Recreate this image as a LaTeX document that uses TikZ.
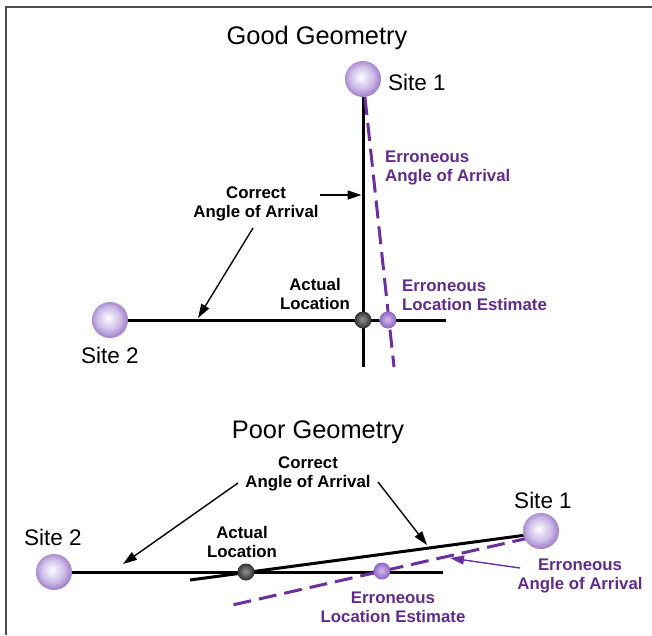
\documentclass[tikz,border=0pt]{standalone}
\usepackage{fontspec}
\setmainfont{Liberation Sans}
\usetikzlibrary{arrows.meta,calc}
\definecolor{purp}{RGB}{96,44,140}
\definecolor{purpline}{RGB}{108,48,158}
\definecolor{lav}{RGB}{205,188,232}
\definecolor{lavd}{RGB}{165,132,205}
\definecolor{estc}{RGB}{180,145,220}
\definecolor{estd}{RGB}{140,100,195}
\definecolor{actc}{RGB}{100,100,100}
\definecolor{actd}{RGB}{45,45,45}
\pgfdeclareradialshading{siteball}{\pgfpoint{-3bp}{3bp}}{color(0bp)=(white); color(6bp)=(lav!40!white); color(16bp)=(lav); color(25bp)=(lavd); color(50bp)=(lavd)}
\pgfdeclareradialshading{estball}{\pgfpoint{-2bp}{2bp}}{color(0bp)=(estc!60!white); color(12bp)=(estc); color(25bp)=(estd); color(50bp)=(estd)}
\pgfdeclareradialshading{actball}{\pgfpoint{-2bp}{2bp}}{color(0bp)=(actc!70!white); color(12bp)=(actc); color(25bp)=(actd); color(50bp)=(actd)}
\pgfdeclarelayer{bg}
\pgfsetlayers{bg,main}
\tikzset{
  site/.style={circle,minimum size=36pt,inner sep=0pt,shading=siteball},
  actdot/.style={circle,minimum size=17pt,inner sep=0pt,shading=actball},
  estdot/.style={circle,minimum size=17pt,inner sep=0pt,shading=estball},
  titletxt/.style={font=\fontsize{25.4}{30}\selectfont,inner sep=0pt,anchor=base},
  sitelbl/.style={font=\fontsize{22.5}{26}\selectfont,inner sep=0pt},
  lbl/.style={font=\fontsize{16.8}{19}\selectfont\bfseries,align=center,inner sep=0pt},
  elbl/.style={lbl,text=purp},
  ray/.style={line width=3pt},
  eray/.style={line width=3pt,purpline,dash pattern=on 18pt off 8pt},
  ptr/.style={line width=1.4pt,-{Triangle[length=14pt,width=9pt]}},
  eptr/.style={ptr,purpline}
}
\begin{document}
\begin{tikzpicture}[x=1pt,y=-1pt]
\useasboundingbox (0,0) rectangle (652,635);
\draw[line width=2pt,black!70] (6,635) -- (6,7) -- (652,7);

% ---------- Good geometry ----------
\node[titletxt] (t1) at (317,44) {Good Geometry};
\node[site] (s1) at (363,79) {};
\node[sitelbl,anchor=west] (l1) at (388,82) {Site 1};
\node[site] (s2) at (110,320) {};
\node[sitelbl] (l2) at (110,355) {Site 2};
\coordinate (vb) at (363,367);
\coordinate (hb) at (446,320);
\coordinate (eb) at (394,367);
\node[actdot] (a1) at (363,320) {};
\node[estdot] (e1) at (388,320) {};
\begin{pgfonlayer}{bg}
\draw[ray] (s1) -- (vb);
\draw[ray] (s2) -- (hb);
\draw[eray] (s1) -- (eb);
\end{pgfonlayer}
\node[lbl] (c1) at (256,204) {Correct\\Angle of Arrival};
\node[lbl] (al1) at (315,294) {Actual\\Location};
\node[elbl,anchor=west,align=left] (ea1) at (385,168) {Erroneous\\Angle of Arrival};
\node[elbl,anchor=west,align=left] (el1) at (402,295) {Erroneous\\Location Estimate};
\coordinate (p1s) at (320,195);
\coordinate (p1t) at (361.5,195);
\coordinate (p2s) at (253,228);
\coordinate (p2t) at (198,318);
\draw[ptr] (p1s) -- (p1t);
\draw[ptr] (p2s) -- (p2t);

% ---------- Poor geometry ----------
\node[titletxt] (t2) at (318,438) {Poor Geometry};
\node[site] (s2b) at (54,572) {};
\node[sitelbl] (l2b) at (53,537) {Site 2};
\node[site] (s1b) at (541,531) {};
\node[sitelbl] (l1b) at (543,500) {Site 1};
\node[actdot] (a2) at (246,572) {};
\node[estdot] (e2) at (382,571) {};
\coordinate (hb2) at (443,572);
\coordinate (cs) at (530,534.5);
\coordinate (ce) at (190,580);
\coordinate (es) at (530,537.7);
\coordinate (ee) at (228,606);
\begin{pgfonlayer}{bg}
\draw[ray] (s2b) -- (hb2);
\draw[ray] (cs) -- (ce);
\draw[eray] (es) -- (ee);
\end{pgfonlayer}
\node[lbl] (c2) at (308,474) {Correct\\Angle of Arrival};
\node[lbl] (al2) at (242,542) {Actual\\Location};
\node[elbl] (el2) at (393,607) {Erroneous\\Location Estimate};
\node[elbl] (ea2) at (580,576) {Erroneous\\Angle of Arrival};
\coordinate (p3s) at (238,483);
\coordinate (p3t) at (123,564);
\coordinate (p4s) at (378,482);
\coordinate (p4t) at (427,545);
\coordinate (p5s) at (520,568);
\coordinate (p5t) at (450,558);
\draw[ptr] (p3s) -- (p3t);
\draw[ptr] (p4s) -- (p4t);
\draw[eptr] (p5s) -- (p5t);
\end{tikzpicture}
\end{document}
